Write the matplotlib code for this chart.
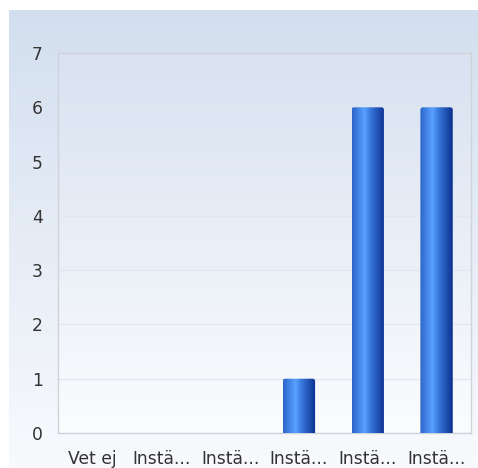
import numpy as np
import matplotlib
matplotlib.use("Agg")
import matplotlib.pyplot as plt
from matplotlib.colors import LinearSegmentedColormap
from matplotlib.patches import FancyBboxPatch

categories = ["Vet ej", "Instä...", "Instä...", "Instä...", "Instä...", "Instä..."]
values = [0, 0, 0, 1, 6, 6]
yticks = [0, 1, 2, 3, 4, 5, 6, 7]

W, H = 478, 468
fig = plt.figure(figsize=(W / 100, H / 100), dpi=100)
fig.patch.set_facecolor("white")

# background panel with vertical gradient
bg = fig.add_axes([9 / W, 0, 1 - 9 / W, 1 - 10 / H])
bg.set_axis_off()
grad = np.linspace(0, 1, 256).reshape(-1, 1)
bg_cmap = LinearSegmentedColormap.from_list("bg", ["#d3dfef", "#f8fafd"])
bg.imshow(grad, aspect="auto", cmap=bg_cmap, extent=[0, 1, 0, 1], origin="upper")
bg.set_xlim(0, 1)
bg.set_ylim(0, 1)

left, right, top, bottom = 58, 471, 53, 433
ax = fig.add_axes([left / W, 1 - bottom / H, (right - left) / W, (bottom - top) / H])
ax.set_facecolor("none")
ax.set_xlim(-0.5, len(categories) - 0.5)
ax.set_ylim(0, 7)

# plot area gradient
pa_cmap = LinearSegmentedColormap.from_list("pa", ["#d8e2f1", "#fbfcfe"])
ax.imshow(grad, aspect="auto", cmap=pa_cmap, extent=[-0.5, len(categories) - 0.5, 0, 7],
          origin="upper", zorder=0)

ax.set_yticks(yticks)
ax.yaxis.grid(True, color="#e3e7ee", linewidth=1, zorder=1)
ax.set_axisbelow(True)

x = np.arange(len(categories))
bars = ax.bar(x, values, width=0.47, color="none", edgecolor="none", zorder=2)

bar_cmap = LinearSegmentedColormap.from_list(
    "bar", [(0.0, "#2a64c8"), (0.38, "#5aa2ff"), (0.55, "#3a7ae0"), (1.0, "#0b2f8c")])
hgrad = np.linspace(0, 1, 256).reshape(1, -1)
asp = (7 / (bottom - top)) / (6 / (right - left))
for b, v in zip(bars, values):
    if v <= 0:
        continue
    bx, by = b.get_x(), b.get_y()
    bw, bh = b.get_width(), b.get_height()
    clip = FancyBboxPatch((bx, by - 0.1), bw, bh + 0.1,
                          boxstyle="round,pad=0,rounding_size=0.035",
                          mutation_aspect=asp, transform=ax.transData,
                          facecolor="none", edgecolor="none")
    ax.add_patch(clip)
    im = ax.imshow(hgrad, aspect="auto", cmap=bar_cmap,
                   extent=[bx, bx + bw, by, by + bh], zorder=3)
    im.set_clip_path(clip)
ax.set_xlim(-0.5, len(categories) - 0.5)
ax.set_ylim(0, 7)

ax.set_xticks(x)
ax.set_xticklabels(categories)
for s in ax.spines.values():
    s.set_color("#cfd4db")
    s.set_linewidth(1)
ax.tick_params(axis="both", length=0, labelsize=12.3, colors="#333333")
ax.tick_params(axis="y", pad=11)
ax.tick_params(axis="x", pad=12.5)

fig.savefig("out.png", dpi=100)
